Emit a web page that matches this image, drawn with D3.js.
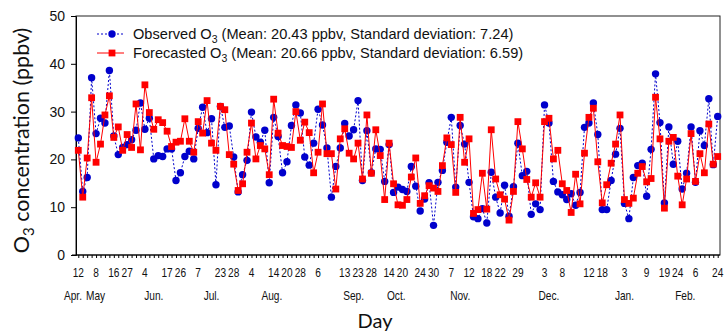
<!DOCTYPE html>
<html>
<head>
<meta charset="utf-8">
<script src="https://cdn.jsdelivr.net/npm/d3@7"></script>
<style>
  body { margin: 0; background: #fff; }
  svg { display: block; }
</style>
</head>
<body>
<svg id="chart" width="725" height="333"></svg>
<script>
const observed = [24.5, 13.3, 16.2, 37.1, 25.4, 28.6, 27.6, 38.6, 24.9, 21.0,
  22.5, 23.1, 24.1, 26.1, 31.8, 26.3, 28.6, 20.1, 20.8, 20.6,
  22.2, 22.2, 15.6, 17.2, 20.6, 21.7, 20.1, 26.5, 30.9, 25.6,
  28.5, 14.7, 31.1, 26.7, 27.0, 20.5, 13.2, 16.8, 19.8, 29.9,
  24.7, 23.6, 26.1, 15.1, 28.8, 24.8, 17.2, 19.5, 27.1, 31.4,
  29.7, 20.5, 18.8, 23.4, 30.5, 27.2, 22.4, 12.1, 18.5, 22.4,
  27.5, 24.9, 26.2, 32.3, 15.6, 26.0, 17.2, 22.2, 22.1, 15.4,
  23.1, 13.1, 14.2, 13.7, 13.3, 18.5, 14.4, 9.2, 11.7, 15.1,
  6.2, 15.2, 17.7, 23.6, 28.8, 14.2, 27.1, 23.2, 15.2, 8.0,
  7.6, 9.7, 6.7, 17.3, 12.1, 8.8, 14.6, 8.1, 14.3, 23.4,
  16.6, 17.5, 8.5, 10.7, 9.5, 31.4, 27.6, 15.4, 13.2, 12.6,
  11.6, 12.8, 10.4, 13.1, 26.7, 27.6, 31.8, 25.2, 9.5, 9.5,
  15.6, 21.1, 26.5, 10.8, 7.6, 16.2, 18.7, 19.2, 12.3, 22.1,
  37.9, 27.7, 10.9, 26.8, 19.0, 23.8, 13.8, 17.1, 26.8, 15.2,
  26.0, 22.9, 32.7, 18.9, 29.0];

// forecasted O3 for the same days
const forecasted = [21.9, 12.1, 20.3, 32.9, 19.4, 23.2, 29.3, 33.3, 24.6, 26.8,
  21.9, 25.2, 22.5, 31.6, 22.0, 35.6, 29.8, 26.3, 28.3, 27.7,
  25.9, 22.7, 23.6, 23.8, 28.5, 23.8, 21.5, 27.9, 25.5, 32.3,
  23.4, 21.9, 31.1, 30.4, 21.0, 19.0, 13.5, 14.9, 21.5, 27.6,
  20.1, 22.9, 22.2, 16.8, 32.6, 25.5, 22.9, 22.7, 22.5, 30.0,
  24.0, 27.8, 25.6, 17.2, 21.5, 31.6, 21.2, 21.2, 13.8, 24.3,
  26.4, 21.3, 20.1, 23.4, 15.9, 29.3, 17.1, 26.2, 20.8, 11.6,
  23.4, 14.9, 10.5, 10.4, 11.6, 16.3, 20.3, 10.8, 12.4, 14.5,
  14.0, 13.3, 18.7, 24.5, 23.1, 13.1, 28.8, 19.4, 24.3, 8.7,
  9.5, 17.1, 9.6, 26.2, 15.9, 12.6, 11.7, 7.3, 13.3, 27.9,
  22.2, 15.8, 12.1, 15.1, 12.1, 27.9, 28.6, 20.1, 21.9, 14.9,
  13.5, 8.9, 16.9, 10.7, 21.3, 28.8, 30.7, 19.5, 10.9, 14.7,
  19.2, 23.2, 29.3, 11.6, 10.8, 11.9, 17.1, 18.5, 15.3, 16.0,
  33.0, 24.3, 9.8, 23.8, 24.6, 16.5, 10.5, 15.9, 25.4, 15.4,
  21.2, 17.2, 27.4, 19.0, 20.6];

// day-of-month labels and the sample they sit under
const dayLabels = ["12", "8", "16", "27", "4", "17", "26", "7", "23", "28", "4", "14", "20", "28", "6", "13", "23", "28",
  "14", "20", "24", "30", "7", "12", "18", "22", "29", "3", "8", "12", "18", "3", "9", "19", "24", "6", "24"];
const dayIndex = [0, 4, 8, 11, 15, 20, 23, 27, 32, 35, 39, 44, 47, 50, 54, 60, 63, 66,
  70, 73, 77, 80, 84, 88, 92, 95, 99, 105, 109, 115, 118, 123, 128, 132, 135, 139, 144];

// month names, anchored in sample units
const months = ["Apr.", "May", "Jun.", "Jul.", "Aug.", "Sep.", "Oct.", "Nov.", "Dec.", "Jan.", "Feb."];
const monthIndex = [-1.2, 3.9, 17, 30, 43.6, 62, 71.6, 86, 106, 123, 136.7];

const yTicks = [0, 10, 20, 30, 40, 50];

const stats = {
  obs: { mean: "20.43", sd: "7.24" },
  fc: { mean: "20.66", sd: "6.59" }
};

// plot box
let margin = {top: 16, right: 5, bottom: 78, left: 76};
let W = 725 - margin.left - margin.right,
    H = 333 - margin.top - margin.bottom;

const svg = d3.select("#chart");
const g = svg.append("g")
  .attr("transform", "translate(" + margin.left + "," + margin.top + ")");

const blue = "#0000cc", red = "#ff0000";
const tickFont = "'Liberation Sans', Arial, sans-serif";
const titleFont = "Lato, 'Open Sans', sans-serif";
const squeeze = 0.78; // the date text in the original is condensed

// x is just the sample number
const x = d3.scaleLinear()
  .domain([0, observed.length - 1])
  .range([2.3, W - 2.3]);

const y = d3.scaleLinear()
  .domain([0, 50])
  .range([H, 0]);

// frame
g.append("rect")
  .attr("x", 0).attr("y", 0)
  .attr("width", W).attr("height", H)
  .attr("fill", "none")
  .attr("stroke", "#222")
  .attr("stroke-width", 1);

// y axis
const yAxis = g.append("g")
  .call(d3.axisLeft(y).tickValues(yTicks).tickSize(5).tickPadding(6));
yAxis.select(".domain").attr("stroke", "#000");
yAxis.selectAll("text")
  .style("font-family", tickFont)
  .style("font-size", "14px")
  .attr("fill", "#111");

// bottom axis: a small tick under every sample, no labels
const xAxis = g.append("g")
  .attr("transform", "translate(0," + H + ")")
  .call(d3.axisBottom(x).tickValues(d3.range(observed.length)).tickSize(3).tickFormat(""));
xAxis.select(".domain").remove();
xAxis.append("line")
  .attr("x1", -4).attr("x2", W)
  .attr("stroke", "#000");

// day labels
g.selectAll(".day")
  .data(dayLabels)
  .enter()
  .append("text")
  .attr("class", "day")
  .attr("transform", (d, i) => "translate(" + x(dayIndex[i]) + "," + (H + 22) + ") scale(" + squeeze + ",1)")
  .attr("text-anchor", "middle")
  .style("font-family", tickFont)
  .style("font-size", "13px")
  .attr("fill", "#111")
  .text(d => d);

// month labels
g.selectAll(".month")
  .data(months)
  .enter()
  .append("text")
  .attr("class", "month")
  .attr("transform", (d, i) => "translate(" + x(monthIndex[i]) + "," + (H + 45) + ") scale(" + squeeze + ",1)")
  .attr("text-anchor", "middle")
  .style("font-family", tickFont)
  .style("font-size", "13px")
  .attr("fill", "#111")
  .text(d => d);

// lines
const line = d3.line()
  .x((d, i) => x(i))
  .y(d => y(d));

g.append("path")
  .datum(observed)
  .attr("d", line)
  .attr("fill", "none")
  .attr("stroke", blue)
  .attr("stroke-width", 1)
  .attr("stroke-dasharray", "2,2");

g.selectAll(".obs")
  .data(observed)
  .enter()
  .append("circle")
  .attr("class", "obs")
  .attr("cx", (d, i) => x(i))
  .attr("cy", d => y(d))
  .attr("r", 3.7)
  .attr("fill", blue);

g.append("path")
  .datum(forecasted)
  .attr("d", line)
  .attr("fill", "none")
  .attr("stroke", red)
  .attr("stroke-width", 1);

const sq = 6.8;
g.selectAll(".fc")
  .data(forecasted)
  .enter()
  .append("rect")
  .attr("class", "fc")
  .attr("x", (d, i) => x(i) - sq / 2)
  .attr("y", d => y(d) - sq / 2)
  .attr("width", sq)
  .attr("height", sq)
  .attr("fill", red);

// legend
const legend = g.append("g").attr("transform", "translate(21,18)");

function legendRow(row, yy, color, dashed, square, name, s) {
  row.append("line")
    .attr("x1", 0).attr("x2", 27)
    .attr("y1", yy).attr("y2", yy)
    .attr("stroke", color)
    .attr("stroke-dasharray", dashed ? "2,2" : null);
  if (square) {
    row.append("rect")
      .attr("x", 15 - sq / 2).attr("y", yy - sq / 2)
      .attr("width", sq).attr("height", sq)
      .attr("fill", color);
  } else {
    row.append("circle")
      .attr("cx", 15).attr("cy", yy).attr("r", 3.7)
      .attr("fill", color);
  }
  const t = row.append("text")
    .attr("x", 36).attr("y", yy + 5)
    .style("font-family", tickFont)
    .style("font-size", "14.6px")
    .attr("fill", "#111");
  t.append("tspan").text(name + " O");
  t.append("tspan").attr("dy", 4).style("font-size", "10.5px").text("3");
  t.append("tspan").attr("dy", -4)
    .text(" (Mean: " + s.mean + " ppbv, Standard deviation: " + s.sd + ")");
}
legendRow(legend, 0, blue, true, false, "Observed", stats.obs);
legendRow(legend, 19, red, false, true, "Forecasted", stats.fc);

// axis titles
const yTitle = svg.append("text")
  .attr("transform", "translate(29," + (margin.top + H / 2 + 5) + ") rotate(-90)")
  .attr("text-anchor", "middle")
  .style("font-family", titleFont)
  .style("font-size", "21.5px")
  .attr("fill", "#111");
yTitle.append("tspan").text("O");
yTitle.append("tspan").attr("dy", 5).style("font-size", "15px").text("3");
yTitle.append("tspan").attr("dy", -5).text(" concentration (ppbv)");

svg.append("text")
  .attr("x", 375)
  .attr("y", 328)
  .attr("text-anchor", "middle")
  .style("font-family", titleFont)
  .style("font-size", "20px")
  .attr("fill", "#111")
  .text("Day");
</script>
</body>
</html>
